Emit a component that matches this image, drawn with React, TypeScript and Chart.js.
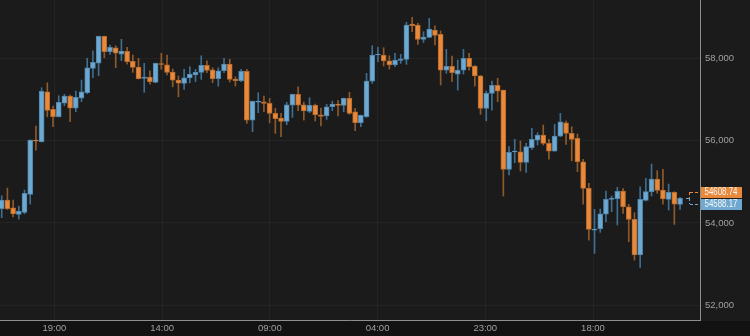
import { useEffect, useRef } from 'react';
import { Chart, registerables } from 'chart.js';

Chart.register(...registerables);

// OHLC values, one entry per candle (oldest → newest)
const opens = [
  54347, 54556, 54369, 54209, 54257, 54695, 56014, 55973, 57188, 56760,
  56580, 56913, 57083, 56792, 57035, 57164, 57757, 57885, 58534, 58160,
  58257, 58104, 58170, 57927, 57788, 57513, 57545, 57416, 57873, 57844,
  57666, 57472, 57392, 57521, 57594, 57659, 57829, 57722, 57504, 57698,
  57861, 57497, 57455, 57684, 56500, 56937, 56946, 56906, 56663, 56549,
  56469, 56865, 57124, 56872, 56712, 56858, 56630, 56598, 56824, 56890,
  56858, 57027, 56702, 56434, 56580, 57448, 58080, 58080, 57942, 57837,
  57951, 57975, 58833, 58809, 58461, 58510, 58687, 58583, 57715, 57805,
  57618, 57715, 58000, 57812, 57577, 56784, 57149, 57343, 57229, 55304,
  55724, 55731, 55474, 55828, 56014, 56137, 55935, 55747, 56111, 56434,
  56177, 56056, 55487, 54840, 53827, 53860, 54211, 54575, 54590, 54777,
  54395, 54089, 53222, 54551, 54760, 55068, 54801, 54575, 54745, 54452,
];
const highs = [
  54662, 54848, 54556, 54410, 54799, 56020, 56354, 57285, 57407, 56840,
  57090, 57124, 57108, 57205, 57472, 58000, 58184, 58541, 58541, 58323,
  58306, 58461, 58267, 58080, 58000, 57878, 57698, 57885, 58121, 58080,
  57740, 57570, 57732, 57796, 57732, 58063, 57942, 57771, 57771, 58000,
  57975, 57553, 57732, 57732, 56962, 57164, 57083, 57027, 56784, 56663,
  56930, 57132, 57310, 56938, 57043, 56890, 56792, 56882, 56962, 56979,
  57035, 57173, 56784, 56622, 57635, 58306, 58267, 58257, 58063, 58121,
  58097, 58874, 58996, 58850, 58646, 58971, 58792, 58663, 58218, 58056,
  57958, 58218, 58121, 57825, 57586, 57205, 57448, 57514, 57229, 55853,
  56032, 55991, 55935, 56300, 56192, 56379, 56032, 56396, 56663, 56476,
  56337, 56160, 55546, 54962, 54332, 54339, 54777, 54655, 54867, 54833,
  54453, 54250, 54881, 55085, 55432, 55270, 55304, 54946, 54759, 54622,
];
const lows = [
  54128, 54325, 54150, 54094, 54223, 54459, 55771, 55965, 56580, 56337,
  56573, 56848, 56459, 56702, 56945, 57139, 57528, 57577, 58014, 58097,
  57771, 57942, 57861, 57659, 57496, 57173, 57375, 57407, 57732, 57594,
  57309, 57066, 57246, 57407, 57431, 57489, 57650, 57407, 57326, 57650,
  57424, 57326, 57431, 56420, 56216, 56678, 56702, 56434, 56177, 56094,
  56386, 56565, 56727, 56500, 56678, 56477, 56355, 56517, 56727, 56598,
  56702, 56639, 56240, 56337, 56565, 57392, 57917, 57812, 57740, 57796,
  57878, 57854, 58646, 58340, 58388, 58500, 58323, 57351, 57635, 57431,
  57229, 57618, 57715, 57326, 56639, 56483, 56743, 56945, 54655, 55166,
  55464, 55262, 55230, 55790, 55894, 55894, 55553, 55740, 56094, 55910,
  55511, 55244, 54459, 53584, 53261, 53773, 54031, 54274, 53951, 54235,
  53545, 53098, 52923, 54534, 54655, 54721, 54459, 54313, 53965, 54330,
];
const closes = [
  54558, 54345, 54223, 54289, 54719, 56014, 55990, 57198, 56736, 56580,
  56930, 57083, 56792, 57052, 57188, 57771, 57902, 58534, 58160, 58267,
  58128, 58177, 57917, 57781, 57504, 57545, 57431, 57878, 57849, 57659,
  57472, 57399, 57528, 57618, 57659, 57829, 57708, 57504, 57698, 57861,
  57490, 57460, 57684, 56500, 56955, 56960, 56906, 56663, 56532, 56469,
  56872, 57124, 56865, 56720, 56858, 56630, 56591, 56824, 56890, 56858,
  57027, 56663, 56434, 56614, 57448, 58080, 58097, 57934, 57837, 57958,
  57990, 58809, 58792, 58461, 58517, 58711, 58558, 57715, 57805, 57650,
  57715, 58000, 57796, 57570, 56784, 57149, 57343, 57205, 55304, 55717,
  55745, 55474, 55853, 56032, 56137, 55935, 55747, 56111, 56459, 56177,
  56032, 55487, 54840, 53844, 53852, 54225, 54575, 54599, 54770, 54395,
  54089, 53222, 54575, 54760, 55068, 54794, 54582, 54745, 54459, 54597,
];

// axis ticks
const xTickPositions = [9.23, 28.13, 47.03, 65.93, 84.83, 103.73];
const xTickLabels = ['19:00', '14:00', '09:00', '04:00', '23:00', '18:00'];
const yTickValues = [52000, 54000, 56000, 58000];

// live quote labels
const askPrice = 54608.74;
const bidPrice = 54588.17;

const UP_BODY = '#6ea9d2';
const UP_BORDER = '#4f86ad';
const UP_WICK = '#3e6e90';
const DOWN_BODY = '#e8893c';
const DOWN_BORDER = '#b86a2a';
const DOWN_WICK = '#8e5a2a';
const FONT = "'Liberation Sans Narrow', 'Liberation Sans', Arial, sans-serif";

export default function App() {
  const ref = useRef<HTMLCanvasElement>(null);

  useEffect(() => {
    document.body.style.margin = '0';
    const canvas = ref.current!;
    const idx = opens.map((_, i) => i);
    const isUp = (i: number) => closes[i] >= opens[i];

    const bgPlugin = {
      id: 'bg',
      beforeDraw(chart: any) {
        const c = chart.ctx;
        const { bottom } = chart.chartArea;
        c.save();
        c.fillStyle = '#1b1b1b';
        c.fillRect(0, 0, chart.width, chart.height);
        c.fillStyle = '#121212';
        c.fillRect(0, bottom + 1, chart.width, chart.height - bottom);
        c.restore();
      },
    };

    const quotePlugin = {
      id: 'quote',
      afterDraw(chart: any) {
        const c = chart.ctx;
        const ys = chart.scales.y;
        const right = chart.chartArea.right;
        const py = Math.round(ys.getPixelForValue((askPrice + bidPrice) / 2));
        c.save();
        // dashed bracket
        c.lineWidth = 1;
        c.setLineDash([3, 2]);
        c.strokeStyle = DOWN_BODY;
        c.beginPath();
        c.moveTo(right - 10, py - 5.5);
        c.lineTo(right, py - 5.5);
        c.moveTo(right - 10.5, py - 6);
        c.lineTo(right - 10.5, py);
        c.stroke();
        c.strokeStyle = UP_BODY;
        c.beginPath();
        c.moveTo(right - 10, py + 6.5);
        c.lineTo(right, py + 6.5);
        c.moveTo(right - 10.5, py);
        c.lineTo(right - 10.5, py + 6);
        c.stroke();
        c.setLineDash([]);
        c.beginPath();
        c.moveTo(right - 14, py + 0.5);
        c.lineTo(right - 11, py + 0.5);
        c.stroke();
        // labels
        c.fillStyle = DOWN_BODY;
        c.fillRect(right + 1, py - 11, 41, 11);
        c.fillStyle = UP_BODY;
        c.fillRect(right + 1, py + 1, 41, 11);
        c.fillStyle = '#f4f4f4';
        c.font = `10px ${FONT}`;
        c.textBaseline = 'middle';
        c.textAlign = 'left';
        const drawText = (t: string, x: number, y: number) => {
          const w = c.measureText(t).width;
          const sx = Math.min(1, 33 / w);
          c.save();
          c.translate(x, y);
          c.scale(sx, 1);
          c.fillText(t, 0, 0);
          c.restore();
        };
        drawText(askPrice.toFixed(2), right + 4.5, py - 5.5);
        drawText(bidPrice.toFixed(2), right + 4.5, py + 6.5);
        c.restore();
      },
    };

    const chart = new Chart(canvas, {
      type: 'bar',
      data: {
        datasets: [
          {
            label: 'wick',
            data: idx.map((i) => ({ x: i, y: [lows[i], highs[i]] })) as any,
            backgroundColor: (c: any) => (isUp(c.dataIndex) ? UP_WICK : DOWN_WICK),
            barThickness: 1,
            borderWidth: 0,
            grouped: false,
            order: 1,
          } as any,
          {
            label: 'body',
            data: idx.map((i) => ({ x: i, y: [opens[i], closes[i]] })) as any,
            backgroundColor: (c: any) => (isUp(c.dataIndex) ? UP_BODY : DOWN_BODY),
            borderColor: (c: any) => (isUp(c.dataIndex) ? UP_BORDER : DOWN_BORDER),
            borderWidth: 1,
            borderSkipped: false,
            barThickness: 5,
            grouped: false,
            order: 0,
          } as any,
        ],
      },
      plugins: [bgPlugin, quotePlugin],
      options: {
        animation: false,
        responsive: false,
        devicePixelRatio: 1,
        layout: { padding: 0 },
        plugins: { legend: { display: false }, tooltip: { enabled: false } },
        scales: {
          x: {
            type: 'linear',
            min: -0.3,
            max: 122.5,
            offset: false,
            grid: { color: 'rgba(255,255,255,0.045)', drawTicks: false, offset: false },
            border: { display: true, color: '#8f8f8f', width: 1 },
            ticks: {
              color: '#a0a0a0',
              font: { family: FONT, size: 9.5 },
              padding: 3,
              autoSkip: false,
              maxRotation: 0,
              callback: (_v: any, i: number) => xTickLabels[i],
            },
            afterBuildTicks: (s: any) => {
              s.ticks = xTickPositions.map((v) => ({ value: v }));
            },
            afterFit: (s: any) => {
              s.height = 16;
              s.paddingLeft = 0;
              s.paddingRight = 0;
            },
          } as any,
          y: {
            type: 'linear',
            position: 'right',
            min: 51643,
            max: 59417,
            grid: { color: 'rgba(255,255,255,0.045)', drawTicks: false },
            border: { display: true, color: '#8f8f8f', width: 1 },
            ticks: {
              color: '#a0a0a0',
              font: { family: FONT, size: 9.5 },
              padding: 5,
              callback: (v: any) => Number(v).toLocaleString('en-US'),
            },
            afterBuildTicks: (s: any) => {
              s.ticks = yTickValues.map((v) => ({ value: v }));
            },
            afterFit: (s: any) => {
              s.width = 50;
              s.paddingTop = 0;
              s.paddingBottom = 0;
            },
          } as any,
        },
      },
    });
    return () => chart.destroy();
  }, []);

  return (
    <div style={{ position: 'fixed', left: 0, top: 0, width: 750, height: 336 }}>
      <canvas ref={ref} width={750} height={336} style={{ display: 'block' }} />
    </div>
  );
}
